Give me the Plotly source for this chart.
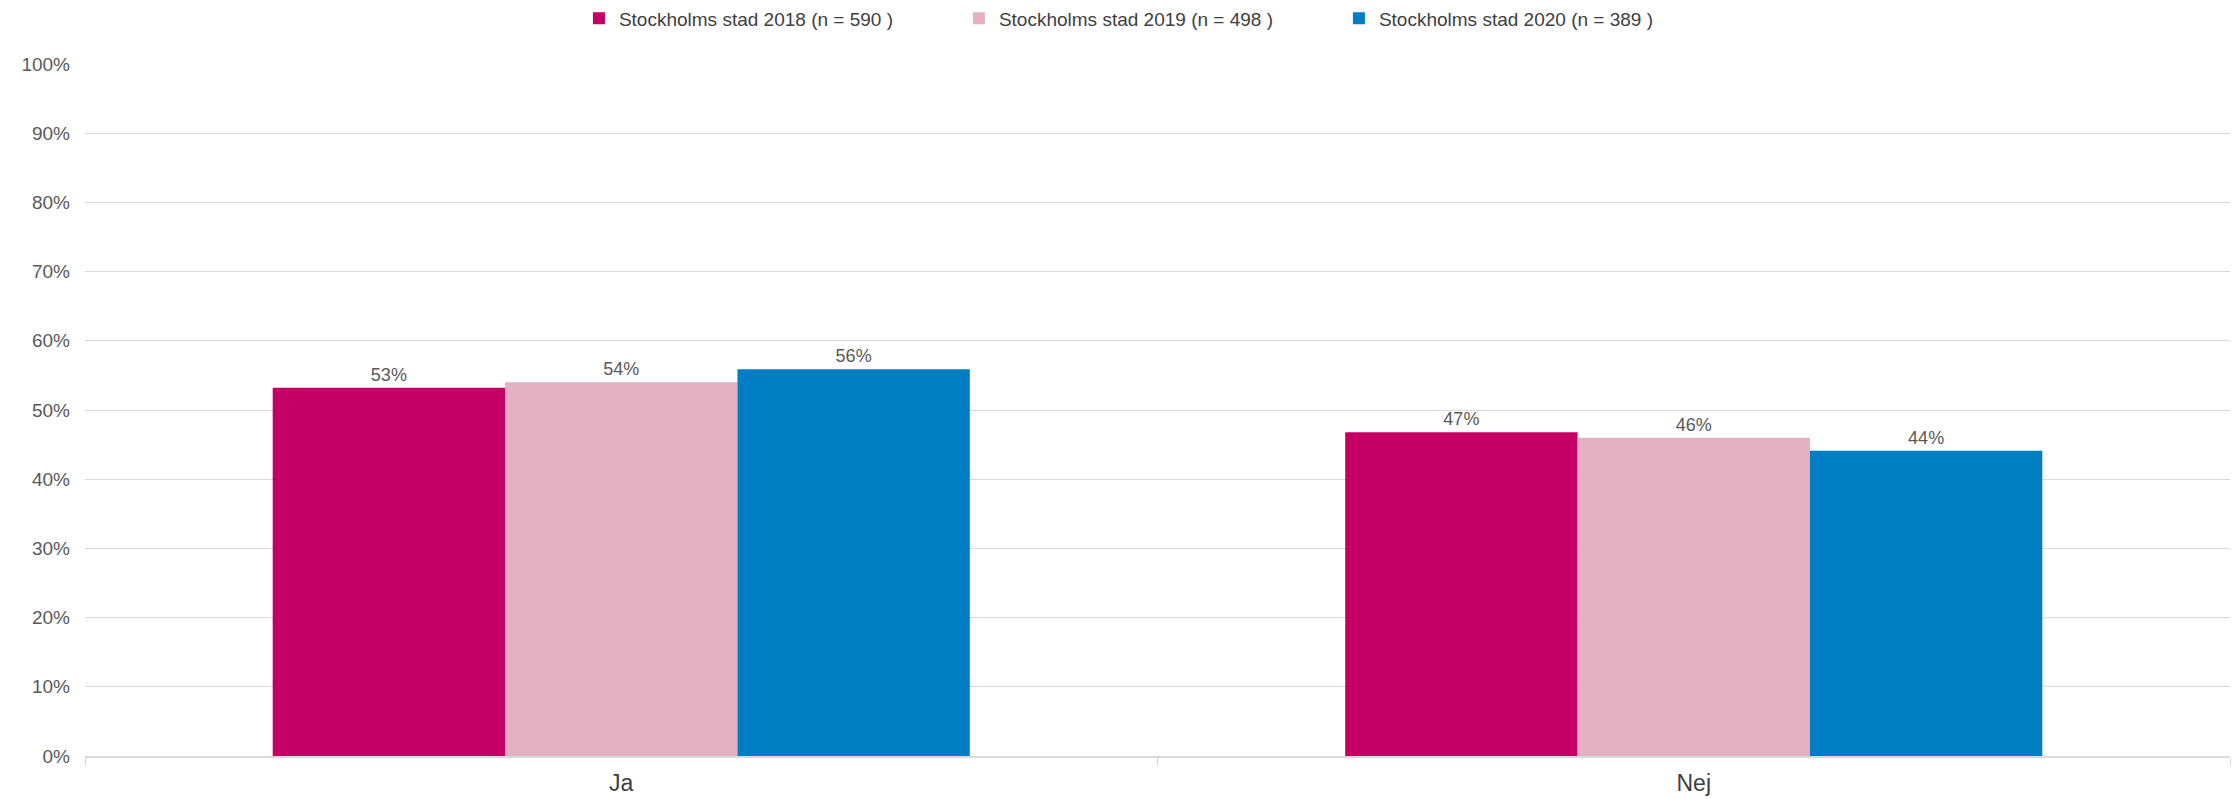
import plotly.graph_objects as go

categories = ["Ja", "Nej"]
series_names = [
    "Stockholms stad 2018 (n = 590 )",
    "Stockholms stad 2019 (n = 498 )",
    "Stockholms stad 2020 (n = 389 )",
]
values_2018 = [53.2, 46.8]
values_2019 = [54.0, 46.0]
values_2020 = [55.9, 44.1]
colors = ["#C40064", "#E3B1C1", "#007EC4"]
y_ticks = list(range(0, 101, 10))
y_tick_labels = [f"{v}%" for v in y_ticks]

TEXT = "#595959"
GRID = "#D9D9D9"
FONT = "Liberation Sans, Arial, sans-serif"

fig = go.Figure()
for name, vals, col in zip(series_names, [values_2018, values_2019, values_2020], colors):
    fig.add_trace(go.Bar(
        name=name, x=categories, y=vals,
        marker=dict(color=col, line=dict(width=0)),
        texttemplate="%{y:.0f}%", textposition="outside",
        textfont=dict(size=18, color=TEXT, family=FONT),
        cliponaxis=False,
    ))

fig.update_layout(
    width=2234, height=799,
    margin=dict(l=85, r=4, t=64, b=43, autoexpand=False),
    paper_bgcolor="white", plot_bgcolor="white",
    barmode="group", bargap=0.35, bargroupgap=0,
    font=dict(family=FONT, color=TEXT, size=18),
    legend=dict(
        orientation="h", x=0.496, xanchor="center", y=1.066, yanchor="middle",
        font=dict(size=19, color="#404040", family=FONT),
        itemwidth=30, entrywidth=335, entrywidthmode="pixels",
        bgcolor="rgba(0,0,0,0)",
    ),
    showlegend=True,
)
fig.update_yaxes(
    range=[0, 100], tickmode="array", tickvals=y_ticks, ticktext=y_tick_labels,
    showgrid=True, gridcolor=GRID, gridwidth=1,
    zeroline=False, showline=False, ticks="",
    tickfont=dict(size=19, color=TEXT, family=FONT),
    ticklabelstandoff=14,
)
fig.update_xaxes(
    showline=True, linecolor=GRID, linewidth=1.5,
    ticks="outside", tickson="boundaries", ticklen=8, tickcolor=GRID,
    tickfont=dict(size=23, color="#404040", family=FONT),
    ticklabelstandoff=6,
    showgrid=False,
)
fig.write_html("out.html", config={"displayModeBar": False},
               post_script="document.body.style.margin='0';")
